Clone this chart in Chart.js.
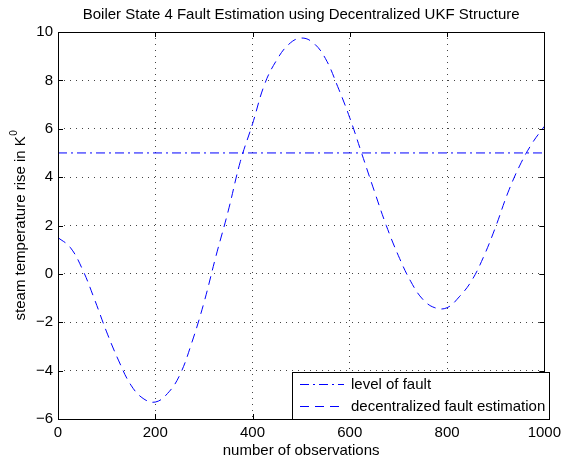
<!DOCTYPE html>
<html>
<head>
<meta charset="utf-8">
<script src="https://cdn.jsdelivr.net/npm/chart.js@4/dist/chart.umd.min.js"></script>
<style>
  html, body { margin: 0; padding: 0; background: #fff; }
  #wrap { width: 566px; height: 462px; }
</style>
</head>
<body>
<div id="wrap"><canvas id="c" width="566" height="462"></canvas></div>
<script>
// Observation index and the decentralized UKF fault estimate
const observations = [0, 25, 50, 75, 100, 125, 150, 175, 200, 225, 250, 275, 300, 325, 350, 375, 400,
  425, 450, 475, 500, 525, 550, 575, 600, 625, 650, 675, 700, 725, 750, 775, 800, 825, 850, 875, 900,
  925, 950, 975, 1000];
const estimate = [1.5, 1.1, 0.2, -1.05, -2.4, -3.6, -4.6, -5.15, -5.3, -4.95, -4.2, -2.85, -1.2, 0.75,
  2.6, 4.65, 6.2, 7.85, 8.85, 9.5, 9.75, 9.55, 8.9, 7.75, 6.45, 4.95, 3.45, 2.0, 0.75, -0.3, -1.05,
  -1.4, -1.4, -0.95, -0.3, 0.7, 1.95, 3.35, 4.5, 5.4, 6.1];

// Injected fault level (constant)
const faultX = [0, 1000];
const faultLevel = [5, 5];

const xTicks = [0, 200, 400, 600, 800, 1000];
const yTicks = [-6, -4, -2, 0, 2, 4, 6, 8, 10];

const titleText = 'Boiler State 4 Fault Estimation using Decentralized UKF Structure';
const xLabel = 'number of observations';
const yLabel = 'steam temperature rise in K';
const yLabelSup = '0';
const legendLabels = ['level of fault', 'decentralized fault estimation'];

const FONT = '"Liberation Sans", Arial, Helvetica, sans-serif';
const FS = 15;
const BLUE = '#0000ff';
const DASH_DOT = [9, 4, 2, 4];
const DASHED = [9, 6];

const toPoints = (xs, ys) => xs.map((x, i) => ({ x: x, y: ys[i] }));

// Axes box, inward tick marks, titles and legend
const decorations = {
  id: 'decorations',
  afterDraw(chart) {
    const { ctx, chartArea: a, scales } = chart;
    ctx.save();
    ctx.strokeStyle = '#000';
    ctx.lineWidth = 1;
    ctx.setLineDash([]);
    ctx.beginPath();
    ctx.rect(Math.round(a.left) + 0.5, Math.round(a.top) + 0.5,
      Math.round(a.right - a.left), Math.round(a.bottom - a.top));
    ctx.stroke();

    const tl = 5;
    ctx.beginPath();
    xTicks.forEach(v => {
      const px = Math.round(scales.x.getPixelForValue(v)) + 0.5;
      ctx.moveTo(px, a.bottom); ctx.lineTo(px, a.bottom - tl);
      ctx.moveTo(px, a.top); ctx.lineTo(px, a.top + tl);
    });
    yTicks.forEach(v => {
      const py = Math.round(scales.y.getPixelForValue(v)) + 0.5;
      ctx.moveTo(a.left, py); ctx.lineTo(a.left + tl, py);
      ctx.moveTo(a.right, py); ctx.lineTo(a.right - tl, py);
    });
    ctx.stroke();

    ctx.fillStyle = '#000';
    ctx.textAlign = 'center';
    ctx.textBaseline = 'middle';
    ctx.font = FS + 'px ' + FONT;
    ctx.fillText(titleText, (a.left + a.right) / 2, 15);
    ctx.fillText(xLabel, (a.left + a.right) / 2, 451);

    // rotated y label with superscript
    ctx.save();
    ctx.translate(21, (a.top + a.bottom) / 2);
    ctx.rotate(-Math.PI / 2);
    ctx.font = FS + 'px ' + FONT;
    const w1 = ctx.measureText(yLabel).width;
    ctx.font = '10px ' + FONT;
    const w2 = ctx.measureText(yLabelSup).width;
    const start = -(w1 + w2) / 2;
    ctx.textAlign = 'left';
    ctx.font = FS + 'px ' + FONT;
    ctx.fillText(yLabel, start, 0);
    ctx.font = '10px ' + FONT;
    ctx.fillText(yLabelSup, start + w1 + 0.5, -7);
    ctx.restore();

    // legend
    const lx = 292, ly = 372, lw = 257, lh = 47;
    ctx.fillStyle = '#fff';
    ctx.fillRect(lx, ly, lw, lh);
    ctx.strokeStyle = '#000';
    ctx.strokeRect(lx + 0.5, ly + 0.5, lw, lh);
    const rows = [384.5, 406.5];
    const dashes = [DASH_DOT, DASHED];
    ctx.strokeStyle = BLUE;
    rows.forEach((ry, i) => {
      ctx.setLineDash(dashes[i]);
      ctx.beginPath();
      ctx.moveTo(300, ry);
      ctx.lineTo(344, ry);
      ctx.stroke();
    });
    ctx.setLineDash([]);
    ctx.fillStyle = '#000';
    ctx.textAlign = 'left';
    ctx.font = FS + 'px ' + FONT;
    rows.forEach((ry, i) => ctx.fillText(legendLabels[i], 351, ry));
    ctx.restore();
  }
};

const gridCommon = {
  color: '#444',
  lineWidth: 1,
  drawTicks: false
};

new Chart(document.getElementById('c'), {
  type: 'line',
  data: {
    datasets: [
      {
        label: legendLabels[0],
        data: toPoints(faultX, faultLevel),
        borderColor: BLUE,
        borderWidth: 1,
        borderDash: DASH_DOT,
        pointRadius: 0,
        fill: false
      },
      {
        label: legendLabels[1],
        data: toPoints(observations, estimate),
        borderColor: BLUE,
        borderWidth: 1,
        borderDash: DASHED,
        pointRadius: 0,
        tension: 0.4,
        fill: false
      }
    ]
  },
  options: {
    responsive: false,
    devicePixelRatio: 1,
    animation: false,
    layout: { padding: { top: 32, right: 16, left: 0, bottom: 0 } },
    plugins: {
      legend: { display: false },
      title: { display: false },
      tooltip: { enabled: false }
    },
    scales: {
      x: {
        type: 'linear',
        min: 0,
        max: 1000,
        afterFit(s) { s.height = 43; },
        afterBuildTicks(s) { s.ticks = xTicks.map(v => ({ value: v })); },
        ticks: {
          color: '#000',
          font: { family: FONT, size: FS },
          padding: 5,
          maxRotation: 0,
          autoSkip: false,
          callback: v => String(v)
        },
        grid: gridCommon,
        border: { display: false, dash: [1, 5] }
      },
      y: {
        type: 'linear',
        min: -6,
        max: 10,
        afterFit(s) { s.width = 58; },
        afterBuildTicks(s) { s.ticks = yTicks.map(v => ({ value: v })); },
        ticks: {
          color: '#000',
          font: { family: FONT, size: FS },
          padding: 5,
          autoSkip: false,
          callback: v => String(v).replace('-', '\u2212')
        },
        grid: gridCommon,
        border: { display: false, dash: [1, 5] }
      }
    }
  },
  plugins: [decorations]
});
</script>
</body>
</html>
